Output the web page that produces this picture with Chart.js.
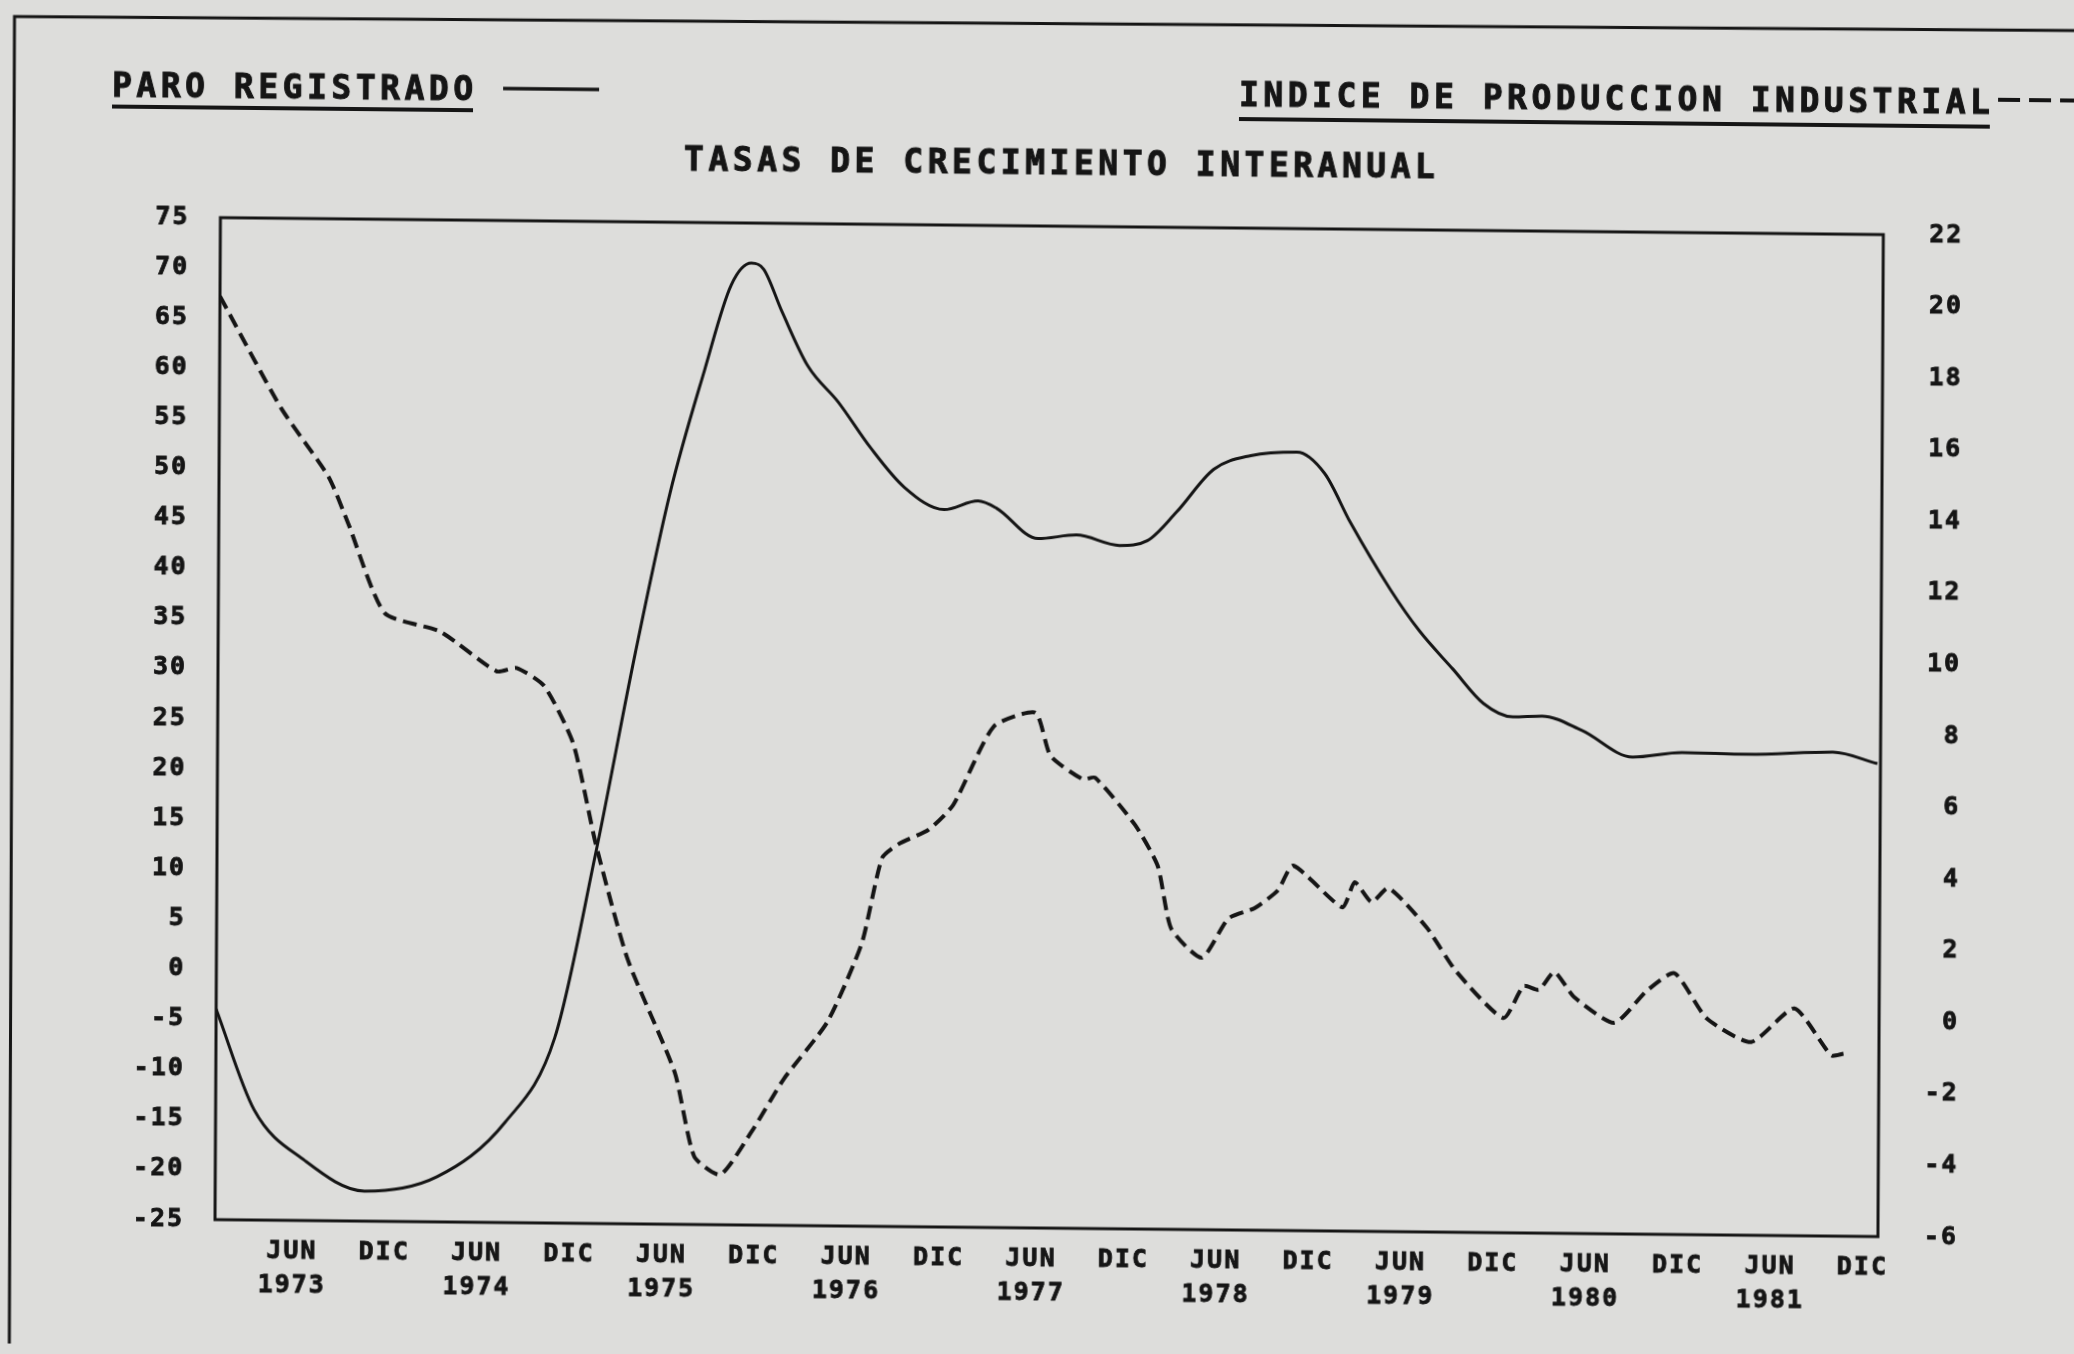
<!DOCTYPE html>
<html>
<head>
<meta charset="utf-8">
<script src="https://cdn.jsdelivr.net/npm/chart.js"></script>
<style>
  html, body { margin: 0; padding: 0; background: #dddddb; overflow: hidden; }
  /* the scan is slightly skewed: right side lower, top shifted right */
  #chart { display: block; transform: matrix(1, 0.0102, -0.0054, 1, 0, 0); }
</style>
</head>
<body>
<canvas id="chart" width="2074" height="1354"></canvas>
<script>
// months counted from JAN 1973 (0) on the x axis
const paroMonths = [0, 2.5, 5.8, 9.7, 14.4, 18.8, 22, 24.6, 27.1, 29.3, 31.5, 33.2, 34.5, 35.3, 36.5, 38.2, 40.2, 42.3, 44.5, 47.1, 49.3, 50.5, 53.2, 55.7, 58.5, 60.3, 62.2, 64.6, 67, 70, 71.8, 73.5, 76.1, 78, 80.2, 82.2, 84.1, 86, 88.6, 91.9, 95.1, 99.4, 104.9, 107.8];
const paroValues = [-4, -14, -19, -22, -20.5, -15, -6.5, 12, 32, 48, 60.3, 68.8, 71, 70.4, 66.2, 60.8, 57.2, 52.7, 48.8, 46.6, 47.5, 46.8, 43.8, 44.2, 43.2, 43.7, 46.6, 50.9, 52.3, 52.7, 50.6, 45.7, 39.1, 35, 31.2, 27.8, 26.5, 26.6, 25.2, 22.6, 23.1, 23, 23.3, 22.2];

const ipiMonths = [0, 4, 7.1, 8.4, 10.8, 14.4, 18.1, 19.4, 21.2, 23.1, 24.6, 26.7, 29.8, 31.1, 32.8, 34.8, 36.9, 39.7, 41.9, 43.2, 44.3, 46.2, 47.8, 50.4, 53.1, 54.1, 56.2, 57, 59.6, 61.1, 62, 64, 65.7, 67.4, 68.9, 69.9, 73.1, 73.9, 75, 76.1, 78.6, 80.5, 83.6, 84.9, 85.9, 86.9, 88.2, 90.8, 92.9, 94.7, 96.8, 99.7, 102.5, 104.9, 105.7];
const ipiValues = [19.8, 16.7, 14.8, 13.5, 11.0, 10.5, 9.4, 9.5, 9.0, 7.4, 4.6, 1.4, -1.75, -4.1, -4.6, -3.4, -1.9, -0.3, 1.9, 4.3, 4.7, 5.1, 5.8, 8.0, 8.4, 7.2, 6.55, 6.6, 5.3, 4.15, 2.4, 1.6, 2.7, 3.0, 3.5, 4.2, 3.05, 3.75, 3.2, 3.6, 2.5, 1.3, 0, 0.9, 0.8, 1.3, 0.6, -0.1, 0.8, 1.3, 0.05, -0.6, 0.35, -0.95, -0.9];

const xTickMonths = [5, 11, 17, 23, 29, 35, 41, 47, 53, 59, 65, 71, 77, 83, 89, 95, 101, 107];
const xTickLabels = [
  ['JUN', '1973'], 'DIC', ['JUN', '1974'], 'DIC', ['JUN', '1975'], 'DIC',
  ['JUN', '1976'], 'DIC', ['JUN', '1977'], 'DIC', ['JUN', '1978'], 'DIC',
  ['JUN', '1979'], 'DIC', ['JUN', '1980'], 'DIC', ['JUN', '1981'], 'DIC'
];

const titleText = 'TASAS DE CRECIMIENTO INTERANUAL';
const leftLegend = 'PARO REGISTRADO';
const rightLegend = 'INDICE DE PRODUCCION INDUSTRIAL';

const ink = '#151515';
const mono = '"DejaVu Sans Mono", "Liberation Mono", monospace';
const tickFont = { family: mono, size: 25, weight: 'bold', lineHeight: 1.38 };

function pairs(xs, ys) {
    return xs.map((x, i) => ({ x: x, y: ys[i] }));
}

// plot box, page frame and the printer-style headings
const paperFrame = {
    id: 'paperFrame',
    beforeDraw(chart) {
        chart.ctx.letterSpacing = '2px';
    },
    afterDraw(chart) {
        const ctx = chart.ctx;
        const a = chart.chartArea;
        const sp = 4.5;
        ctx.save();
        ctx.strokeStyle = ink;
        ctx.fillStyle = ink;
        ctx.lineWidth = 3;
        ctx.strokeRect(a.left, a.top, a.right - a.left, a.bottom - a.top);

        ctx.beginPath();
        ctx.moveTo(13, 1360);
        ctx.lineTo(11, 27);
        ctx.lineTo(2080, 20);
        ctx.stroke();

        ctx.font = 'bold 33px ' + mono;
        ctx.letterSpacing = sp + 'px';
        ctx.textBaseline = 'middle';
        ctx.lineWidth = 1;

        ctx.textAlign = 'left';
        ctx.fillText(leftLegend, 109, 97);
        ctx.strokeText(leftLegend, 109, 97);
        let w = ctx.measureText(leftLegend).width - sp;
        ctx.lineWidth = 4;
        ctx.beginPath();
        ctx.moveTo(109, 116);
        ctx.lineTo(109 + w, 116);
        ctx.stroke();
        ctx.lineWidth = 3.5;
        ctx.beginPath();
        ctx.moveTo(500, 94);
        ctx.lineTo(596, 94);
        ctx.stroke();

        ctx.lineWidth = 1;
        ctx.fillText(rightLegend, 1236, 95);
        ctx.strokeText(rightLegend, 1236, 95);
        w = ctx.measureText(rightLegend).width - sp;
        ctx.lineWidth = 4;
        ctx.beginPath();
        ctx.moveTo(1236, 117);
        ctx.lineTo(1236 + w, 117);
        ctx.stroke();
        ctx.setLineDash([22, 9]);
        ctx.beginPath();
        ctx.moveTo(1995, 90);
        ctx.lineTo(2090, 90);
        ctx.stroke();
        ctx.setLineDash([]);

        ctx.lineWidth = 1;
        ctx.textAlign = 'center';
        ctx.fillText(titleText, 1059, 165);
        ctx.strokeText(titleText, 1059, 165);
        ctx.restore();
    }
};

const tickStyle = { color: ink, font: tickFont, textStrokeColor: ink, textStrokeWidth: 0.8 };

new Chart(document.getElementById('chart'), {
    type: 'line',
    data: {
        datasets: [{
            label: leftLegend,
            data: pairs(paroMonths, paroValues),
            yAxisID: 'y',
            borderColor: ink,
            borderWidth: 3,
            pointRadius: 0,
            cubicInterpolationMode: 'monotone',
            fill: false
        }, {
            label: rightLegend,
            data: pairs(ipiMonths, ipiValues),
            yAxisID: 'y1',
            borderColor: ink,
            borderWidth: 4,
            borderDash: [14, 7],
            pointRadius: 0,
            tension: 0.2,
            fill: false
        }]
    },
    options: {
        responsive: false,
        animation: false,
        layout: { padding: { left: 60, right: 113, top: 226, bottom: 0 } },
        plugins: {
            legend: { display: false },
            tooltip: { enabled: false },
            title: { display: false }
        },
        scales: {
            x: {
                type: 'linear',
                min: 0,
                max: 108,
                grid: { display: false, drawTicks: false },
                border: { display: false },
                afterBuildTicks: (axis) => { axis.ticks = xTickMonths.map(v => ({ value: v })); },
                afterFit: (axis) => { axis.height = 126; },
                ticks: Object.assign({
                    autoSkip: false,
                    maxRotation: 0,
                    padding: 14,
                    callback: (v) => xTickLabels[xTickMonths.indexOf(v)]
                }, tickStyle)
            },
            y: {
                position: 'left',
                min: -25,
                max: 75,
                grid: { display: false, drawTicks: false },
                border: { display: false },
                afterFit: (axis) => { axis.width = 158; },
                ticks: Object.assign({ stepSize: 5, padding: 31 }, tickStyle)
            },
            y1: {
                position: 'right',
                min: -6,
                max: 22,
                grid: { display: false, drawTicks: false },
                border: { display: false },
                afterFit: (axis) => { axis.width = 80; },
                ticks: Object.assign({ stepSize: 2, crossAlign: 'far' }, tickStyle)
            }
        }
    },
    plugins: [paperFrame]
});
</script>
</body>
</html>
